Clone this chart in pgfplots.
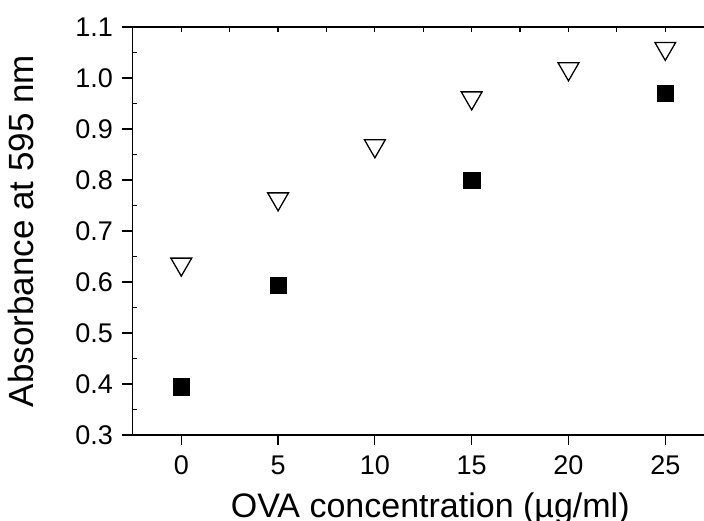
\documentclass[border=0pt]{standalone}
\usepackage{pgfplots}
\pgfplotsset{compat=1.18}
\usepackage{fontspec}
\setmainfont{Liberation Sans}
\begin{document}
\begin{tikzpicture}
\begin{axis}[
  name=ax,
  scale only axis,
  width=571.5pt, height=408pt,
  xmin=-2.52, xmax=27.0,
  ymin=0.3, ymax=1.1,
  axis lines*=left,
  axis line style={line width=1.8pt},
  xtick={0,5,...,25},
  ytick={0.3,0.4,...,1.1},
  minor y tick num=1,
  tick align=outside,
  major tick length=10pt,
  minor tick length=5pt,
  every tick/.style={black, line width=1.2pt},
  minor y tick style={xshift=5pt},
  /pgf/number format/assume math mode=true,
  ticklabel style={font=\fontsize{27}{31}\selectfont},
  xticklabel style={yshift=-7pt},
  yticklabel style={xshift=-6pt, /pgf/number format/fixed, /pgf/number format/fixed zerofill, /pgf/number format/precision=1},
  xlabel={OVA concentration (\textmu g/ml)},
  ylabel={Absorbance at 595 nm},
  xlabel style={font=\fontsize{34}{40}\selectfont, yshift=-11pt, xshift=12pt},
  ylabel style={font=\fontsize{35}{40}\selectfont, yshift=35pt},
  clip=false,
]
\addplot[only marks, mark=triangle, mark size=12pt, mark options={rotate=180, fill=white, line width=1.3pt, draw=black}]
  coordinates {(0,0.635) (5,0.763) (10,0.867) (15,0.961) (20,1.018) (25,1.058)};
\addplot[only marks, mark=square*, mark size=8.2pt, mark options={fill=black, draw=black, rounded corners=2pt}]
  coordinates {(0,0.395) (5,0.594) (15,0.800) (25,0.970)};
\end{axis}
\begin{axis}[
  scale only axis,
  width=571.5pt, height=408pt,
  xmin=-2.52, xmax=27.0,
  ymin=0.3, ymax=1.1,
  axis x line*=top,
  axis y line=none,
  axis line style={line width=1.8pt},
  xtick={0,2.5,...,25},
  xticklabels={},
  tick align=inside,
  major tick length=5pt,
  every tick/.style={black, line width=1.2pt},
]
\end{axis}
\pgfresetboundingbox
\useasboundingbox ([shift={(-132.5pt,-86pt)}]ax.south west) rectangle ([shift={(0pt,27pt)}]ax.north east);
\end{tikzpicture}
\end{document}
